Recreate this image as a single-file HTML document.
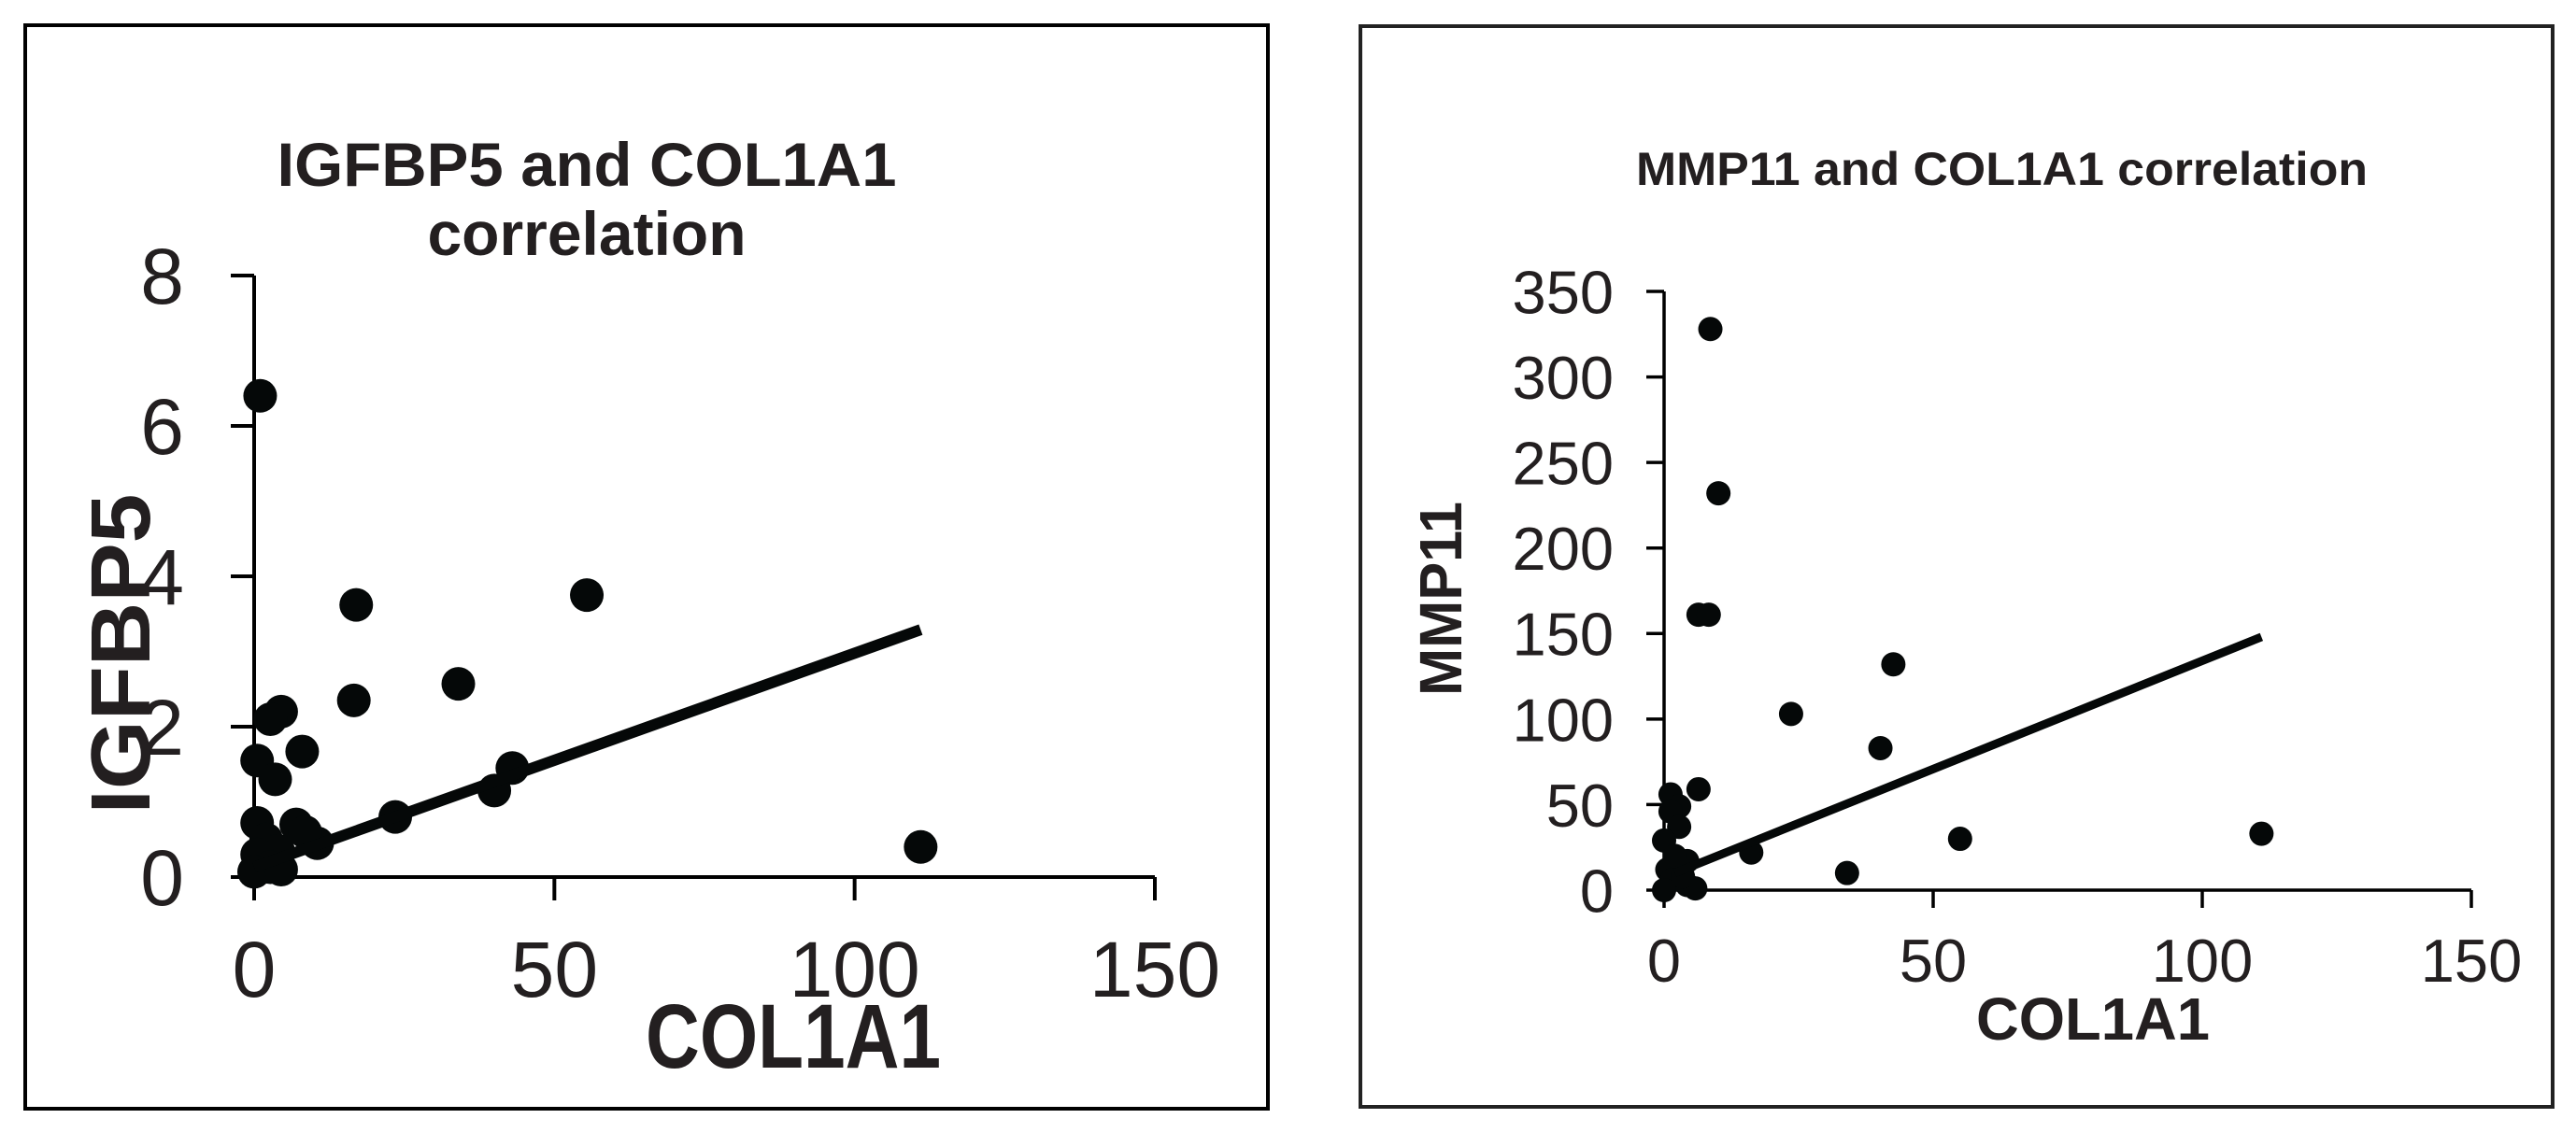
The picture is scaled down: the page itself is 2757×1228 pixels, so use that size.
<!DOCTYPE html>
<html><head><meta charset="utf-8"><style>
html,body{margin:0;padding:0;background:#fff;width:2757px;height:1228px;overflow:hidden}
svg text{font-family:"Liberation Sans",Arial,sans-serif;fill:#231f20}
</style></head><body>
<svg id="c" width="2757" height="1228" xmlns="http://www.w3.org/2000/svg">
<rect x="27" y="27" width="1330" height="1160" fill="none" stroke="#000" stroke-width="4"/>
<rect x="1456" y="28" width="1276" height="1157" fill="none" stroke="#222" stroke-width="4"/>
<g id="left"></g>
<g id="right"></g>
</svg>
<script>
const NS="http://www.w3.org/2000/svg";
// Left chart data
const leftXTicks=[0,50,100,150];
const leftYTicks=[0,2,4,6,8];
const leftX=[1,17,55.4,16.6,34,4.5,2.7,8,0.5,3.5,43,40,23.5,7,0.5,2,10.5,4,0.5,2.7,0,4.5,111,8.5];
const leftY=[6.4,3.62,3.75,2.35,2.57,2.2,2.1,1.67,1.55,1.3,1.45,1.15,0.8,0.7,0.72,0.5,0.45,0.35,0.3,0.13,0.07,0.1,0.4,0.6];
const leftTrend=[[0,0.13],[111,3.29]];
// Right chart data
const rightXTicks=[0,50,100,150];
const rightYTicks=[0,50,100,150,200,250,300,350];
const rightX=[8.6,10.1,6.4,8.3,42.6,23.6,40.2,6.4,1.2,2.8,1.2,2.8,0,55,111,16.2,34,4.3,0.6,1.5,4.3,5.8,0,2,3.5];
const rightY=[328,232,161,161,132,103,83,59,56,49,46,37,29,30,33,22,10,17,12,6,3,1,0,20,8];
const rightTrend=[[2,10],[111,148]];

function el(tag,attrs,parent,text){const e=document.createElementNS(NS,tag);for(const k in attrs)e.setAttribute(k,attrs[k]);if(text!==undefined)e.textContent=text;parent.appendChild(e);return e;}

function chart(g,cfg){
  const sx=v=>cfg.x0+(v-cfg.xmin)/(cfg.xmax-cfg.xmin)*(cfg.x1-cfg.x0);
  const sy=v=>cfg.y0-(v-cfg.ymin)/(cfg.ymax-cfg.ymin)*(cfg.y0-cfg.y1);
  let a=el('line',{x1:cfg.x0,y1:cfg.y0,x2:cfg.x1,y2:cfg.y0,stroke:'#000','stroke-width':cfg.aw},g);
  
  
  a=el('line',{x1:cfg.x0,y1:cfg.y0,x2:cfg.x0,y2:cfg.y1,stroke:'#000','stroke-width':cfg.aw},g);
  
  
  cfg.xt.forEach(v=>{
    const t=el('line',{x1:sx(v),y1:cfg.y0,x2:sx(v),y2:cfg.y0+cfg.tl,stroke:'#000','stroke-width':cfg.aw},g);
    
    
    const l=el('text',{x:sx(v),y:cfg.xly,'font-size':cfg.tfs,'text-anchor':'middle'},g,String(v));
    
    
  });
  cfg.yt.forEach(v=>{
    const t=el('line',{x1:cfg.x0-cfg.tl,y1:sy(v),x2:cfg.x0,y2:sy(v),stroke:'#000','stroke-width':cfg.aw},g);
    
    
    const l=el('text',{x:cfg.ylx,y:sy(v)+cfg.tfs*0.36,'font-size':cfg.tfs,'text-anchor':'end'},g,String(v));
    
    
  });
  cfg.xs.forEach((v,i)=>{
    const c=el('circle',{cx:sx(v),cy:sy(cfg.ys[i]),r:cfg.r,fill:'#050808'},g);
    
    
  });
  const tr=el('line',{x1:sx(cfg.tr[0][0]),y1:sy(cfg.tr[0][1]),x2:sx(cfg.tr[1][0]),y2:sy(cfg.tr[1][1]),stroke:'#050808','stroke-width':cfg.lw},g);
  
  
}
chart(document.getElementById('left'),{x0:272,x1:1236,y0:939,y1:295,xmin:0,xmax:150,ymin:0,ymax:8,xt:leftXTicks,yt:leftYTicks,xs:leftX,ys:leftY,tr:leftTrend,r:18,lw:12,aw:4,tl:25,tfs:84,xly:1067,ylx:197});
chart(document.getElementById('right'),{x0:1781,x1:2645,y0:953,y1:312,xmin:0,xmax:150,ymin:0,ymax:350,xt:rightXTicks,yt:rightYTicks,xs:rightX,ys:rightY,tr:rightTrend,r:13,lw:9,aw:3.5,tl:19,tfs:65,xly:1051,ylx:1727});

const L=document.getElementById('left'),R=document.getElementById('right');
let t;
t=el('text',{x:628,y:199,'font-size':66,'font-weight':'bold','text-anchor':'middle',textLength:663,lengthAdjust:'spacingAndGlyphs'},L,'IGFBP5 and COL1A1');


t=el('text',{x:628,y:273,'font-size':66,'font-weight':'bold','text-anchor':'middle'},L,'correlation');


t=el('text',{x:0,y:0,'font-size':90,'font-weight':'bold','text-anchor':'middle',transform:'translate(160,700) rotate(-90)',textLength:343,lengthAdjust:'spacingAndGlyphs'},L,'IGFBP5');


t=el('text',{x:849,y:1143,'font-size':97,'font-weight':'bold','text-anchor':'middle',textLength:316,lengthAdjust:'spacingAndGlyphs'},L,'COL1A1');


t=el('text',{x:1751,y:198,'font-size':50,'font-weight':'bold',textLength:783,lengthAdjust:'spacingAndGlyphs'},R,'MMP11 and COL1A1 correlation');


t=el('text',{x:0,y:0,'font-size':64,'font-weight':'bold','text-anchor':'middle',transform:'translate(1564,641) rotate(-90)',textLength:208,lengthAdjust:'spacingAndGlyphs'},R,'MMP11');


t=el('text',{x:2240,y:1113,'font-size':64,'font-weight':'bold','text-anchor':'middle',textLength:250,lengthAdjust:'spacingAndGlyphs'},R,'COL1A1');


</script>
</body></html>
